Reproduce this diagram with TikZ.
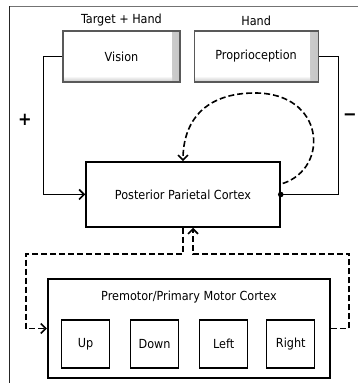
\documentclass[tikz,border=0pt]{standalone}
\usepackage{fontspec}
\setmainfont{DejaVu Sans Condensed}
\usetikzlibrary{positioning,arrows.meta}

\begin{document}
\begin{tikzpicture}[
    x=1pt, y=1pt,
    base/.style = {rectangle, draw=black, line width=1.5pt,
      text centered, inner sep=0pt},
    sense/.style = {base, draw=black!65, line width=1.1pt, fill=white,
      minimum height=51pt,
      path picture={
        \shade[left color=white, right color=black!22]
          ([xshift=-8pt]path picture bounding box.north east)
          rectangle (path picture bounding box.south east);
        \shade[top color=white, bottom color=black!22]
          ([yshift=6pt]path picture bounding box.south west)
          rectangle ([xshift=-8pt]path picture bounding box.south east);
      }},
    cortex/.style = {base, minimum width=194pt, minimum height=65pt},
    motor/.style = {base, line width=2.2pt, minimum width=282pt,
      minimum height=99pt},
    dirbox/.style = {base, line width=1.1pt, minimum width=48pt,
      minimum height=48pt},
    wire/.style = {line width=1.6pt},
    arrowwire/.style = {wire, -{Straight Barb[length=5pt,width=10pt]}},
    dwire/.style = {arrowwire, dash pattern=on 6pt off 3pt},
    sign/.style = {font=\fontsize{18}{18}\selectfont\bfseries},
    node distance=20pt,
    every node/.style={font=\fontsize{12.5}{14}\selectfont}
]
  \useasboundingbox (0,0) rectangle (357,383);

  % frame (cut off at right and bottom)
  \draw[black!55, line width=0.9pt] (9,377) -- (370,377);
  \draw[black!85, line width=0.9pt] (9,-10) -- (9,377);

  % senses
  \node (vision) [sense, minimum width=117pt] at (121.5,326.5) {Vision};
  \node (proprio) [sense, minimum width=124pt, right=13pt of vision] {Proprioception};
  \node (tgtlabel) [above=1pt of vision] {Target + Hand};
  \node (handlabel) [above=1pt of proprio] {Hand};

  % cortex
  \node (ppc) [cortex] at (183,188.5) {Posterior Parietal Cortex};
  \node (pmc) [motor] at (189,54.5) {};
  \node (pmctitle) [below=10pt of pmc.north] {Premotor/Primary Motor Cortex};

  \node (upbox) [dirbox] at (85.5,39) {Up};
  \node (downbox) [dirbox, right=of upbox] {Down};
  \node (leftbox) [dirbox, right=of downbox] {Left};
  \node (rightbox) [dirbox, right=18pt of leftbox] {Right};

  \node (plus) [sign] at (25,263) {+};
  \node (minus) [sign] at (350,266) {−};

  % feedback
  \draw[arrowwire] (vision.west) -- ++(-19,0) |- (ppc.west);
  \draw[wire] (proprio.east) -- ++(20,0) |- (ppc.east);
  \fill (ppc.east) circle (2.8pt);

  \coordinate (looptop) at (255,290);
  \draw[dwire] ([shift={(2pt,11pt)}]ppc.east)
    .. controls (330,215) and (325,290) .. (looptop)
    .. controls (205,290) and (183,262) .. (ppc.north);

  % motor loop
  \draw[dwire] (ppc.south) -- ++(0,-26) -| ([xshift=-21pt]pmc.west) -- (pmc.west);
  \draw[dwire] (pmc.east) -- ++(18,0) |- ([shift={(10pt,-26pt)}]ppc.south)
    -- ([xshift=10pt]ppc.south);

\end{tikzpicture}
\end{document}
